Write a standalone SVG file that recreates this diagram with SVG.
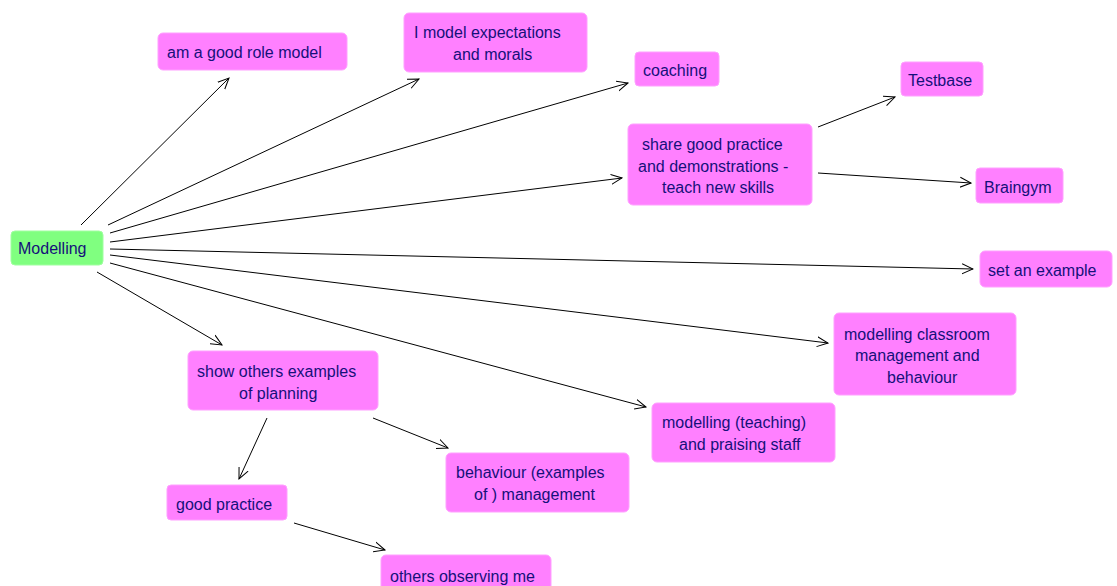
<svg xmlns="http://www.w3.org/2000/svg" width="1117" height="586" viewBox="0 0 1117 586">
<style>
.n rect{fill:#ff80ff;stroke:#ffa0ff;stroke-width:1}
.root rect{fill:#80ff80;stroke:#a0ffa0}
text{font-family:"Liberation Sans",Arial,sans-serif;font-size:16px;fill:#15107a;letter-spacing:0px}
#edges line{stroke:#000;stroke-width:1;marker-end:url(#arr)}
</style>
<defs>
<marker id="arr" viewBox="0 0 12 12" refX="11" refY="6" markerWidth="12" markerHeight="12" markerUnits="userSpaceOnUse" orient="auto">
<path d="M0,1 L11,6 L0,11" fill="none" stroke="#000" stroke-width="1"/>
</marker>
</defs>
<rect width="1117" height="586" fill="#fff"/>
<g id="edges">
<line x1="81" y1="225" x2="229" y2="78"/>
<line x1="108" y1="225" x2="419" y2="79"/>
<line x1="110" y1="233" x2="628" y2="83"/>
<line x1="110" y1="242" x2="622" y2="178"/>
<line x1="110" y1="249" x2="973" y2="269"/>
<line x1="110" y1="255" x2="828" y2="343"/>
<line x1="110" y1="263" x2="646" y2="407"/>
<line x1="97" y1="272" x2="222" y2="345"/>
<line x1="818" y1="127" x2="895" y2="97"/>
<line x1="818" y1="173" x2="971" y2="183"/>
<line x1="267" y1="418" x2="239" y2="479"/>
<line x1="373" y1="418" x2="448" y2="448"/>
<line x1="294" y1="523" x2="385" y2="550"/>
</g>
<g id="modelling" class="n root"><rect x="11" y="231" width="92" height="34" rx="4"/><text x="18" y="254">Modelling</text></g>
<g id="role-model" class="n"><rect x="158" y="33" width="189" height="37" rx="5"/><text x="167" y="58">am a good role model</text></g>
<g id="expectations" class="n"><rect x="404" y="13" width="183" height="59" rx="5"/><text x="414" y="38">I model expectations</text><text x="453" y="60">and morals</text></g>
<g id="coaching" class="n"><rect x="635" y="52" width="84" height="34" rx="4"/><text x="643" y="76">coaching</text></g>
<g id="share" class="n"><rect x="628" y="124" width="184" height="81" rx="5"/><text x="642" y="150">share good practice</text><text x="638" y="172">and demonstrations -</text><text x="662" y="193">teach new  skills</text></g>
<g id="testbase" class="n"><rect x="901" y="62" width="82" height="34" rx="4"/><text x="908" y="86">Testbase</text></g>
<g id="braingym" class="n"><rect x="976" y="168" width="87" height="35" rx="4"/><text x="984" y="193">Braingym</text></g>
<g id="set-example" class="n"><rect x="980" y="251" width="132" height="36" rx="5"/><text x="988" y="276">set an example</text></g>
<g id="classroom" class="n"><rect x="834" y="313" width="182" height="82" rx="5"/><text x="844" y="340">modelling classroom</text><text x="855" y="361">management and</text><text x="887" y="383">behaviour</text></g>
<g id="teaching" class="n"><rect x="652" y="403" width="183" height="59" rx="5"/><text x="662" y="428">modelling (teaching)</text><text x="679" y="450">and praising staff</text></g>
<g id="planning" class="n"><rect x="188" y="351" width="190" height="59" rx="5"/><text x="197" y="377">show  others examples</text><text x="239" y="399">of  planning</text></g>
<g id="behaviour" class="n"><rect x="446" y="453" width="183" height="59" rx="5"/><text x="456" y="478">behaviour (examples</text><text x="474" y="500">of ) management</text></g>
<g id="good-practice" class="n"><rect x="167" y="485" width="120" height="35" rx="4"/><text x="176" y="510">good practice</text></g>
<g id="observing" class="n"><rect x="381" y="555" width="170" height="40" rx="5"/><text x="390" y="582">others observing me</text></g>
</svg>
